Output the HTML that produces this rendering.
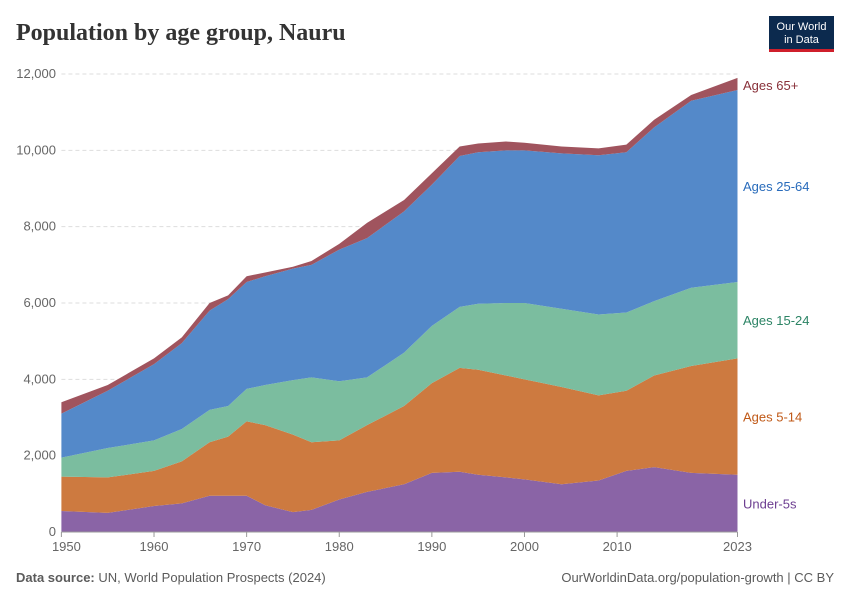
<!DOCTYPE html>
<html><head><meta charset="utf-8">
<style>
body{margin:0;background:#fff;}
svg text{font-family:"Liberation Sans",sans-serif;}
</style></head>
<body>
<svg id="chart" width="850" height="600" viewBox="0 0 850 600" xmlns="http://www.w3.org/2000/svg">
<text x="16" y="40" font-size="24" font-weight="bold" fill="#333" style="font-family:'Liberation Serif',serif">Population by age group, Nauru</text>
<g>
<rect x="769" y="16" width="65" height="34" fill="#0c2a4e"/>
<rect x="769" y="49" width="65" height="3" fill="#cf1f2b"/>
<text x="801.5" y="30" font-size="11" fill="#fff" text-anchor="middle">Our World</text>
<text x="801.5" y="43" font-size="11" fill="#fff" text-anchor="middle">in Data</text>
</g>
<g id="grid"></g>
<g id="areas"></g>
<g id="axes"></g>
<g id="labels"></g>
<text x="16" y="582" font-size="13" fill="#5b5b5b"><tspan font-weight="bold">Data source:</tspan> UN, World Population Prospects (2024)</text>
<text x="834" y="582" font-size="13" fill="#5b5b5b" text-anchor="end">OurWorldinData.org/population-growth | CC BY</text>
</svg>
<script>
const years=[1950,1955,1960,1963,1966,1968,1970,1972,1975,1977,1980,1983,1987,1990,1993,1995,1998,2000,2004,2008,2011,2014,2018,2023];
const under5=[550,500,680,750,950,950,950,700,520,580,850,1050,1250,1550,1580,1500,1430,1380,1250,1350,1600,1700,1550,1500];
const ages5to14=[900,930,920,1100,1400,1550,1950,2100,2030,1770,1550,1750,2050,2350,2720,2750,2670,2620,2550,2230,2100,2400,2800,3050];
const ages15to24=[500,770,800,850,850,800,850,1050,1430,1700,1550,1250,1400,1500,1600,1730,1900,2000,2050,2120,2050,1950,2050,2000];
const ages25to64=[1150,1500,2000,2250,2600,2800,2800,2850,2920,2950,3450,3650,3700,3700,3950,3970,4000,4000,4070,4170,4200,4550,4900,5030];
const ages65plus=[300,150,150,150,200,100,150,100,50,100,150,400,300,300,250,230,230,200,180,180,200,200,150,320];
const yTicks=[0,2000,4000,6000,8000,10000,12000];
const xTicks=[1950,1960,1970,1980,1990,2000,2010,2023];
const seriesNames=["Under-5s","Ages 5-14","Ages 15-24","Ages 25-64","Ages 65+"];
const fills=["#8a64a6","#cd7a40","#7bbd9f","#5489c9","#a0545e"];
const labelCols=["#6d3e91","#c05917","#2c8465","#286bbb","#883039"];
const X0=61.4,X1=737.5,Y0=532,Y1=74;
const xs=y=>X0+(y-1950)/(2023-1950)*(X1-X0);
const ys=v=>Y0-v/12000*(Y0-Y1);
const NS="http://www.w3.org/2000/svg";
function mk(t,a,p){const e=document.createElementNS(NS,t);for(const k in a)e.setAttribute(k,a[k]);p.appendChild(e);return e;}
const grid=document.getElementById('grid'),axes=document.getElementById('axes'),areas=document.getElementById('areas'),labels=document.getElementById('labels');
yTicks.forEach(v=>{
  if(v>0){const l=mk('line',{x1:X0,x2:X1,y1:ys(v),y2:ys(v),stroke:'#ddd','stroke-dasharray':'4,3'},grid);
  
  }
  const t=mk('text',{x:56,y:ys(v)+4,'font-size':13,fill:'#666','text-anchor':'end'},axes);
  t.textContent=v.toLocaleString('en-US');
  
  
});
const series=[under5,ages5to14,ages15to24,ages25to64,ages65plus];
let base=years.map(()=>0);
series.forEach((s,i)=>{
  const top=base.map((b,j)=>b+s[j]);
  let d='M'+years.map((y,j)=>xs(y)+','+ys(top[j])).join('L');
  for(let j=years.length-1;j>=0;j--)d+='L'+xs(years[j])+','+ys(base[j]);
  const p=mk('path',{d:d+'Z',fill:fills[i]},areas);
  
  
  const n=years.length-1;
  let ly=ys((base[n]+top[n])/2)+5;
  if(i==4)ly=ys(top[n])+12;
  const t=mk('text',{x:743,y:ly,'font-size':13,fill:labelCols[i]},labels);
  t.textContent=seriesNames[i];
  
  
  base=top;
});
const ax=mk('line',{x1:X0,x2:X1,y1:Y0,y2:Y0,stroke:'#999'},axes);


xTicks.forEach(y=>{
  const tk=mk('line',{x1:xs(y),x2:xs(y),y1:Y0,y2:Y0+5,stroke:'#999'},axes);
  
  
  const t=mk('text',{x:xs(y)+(y==1950?5:0),y:551,'font-size':13,fill:'#666','text-anchor':'middle'},axes);
  t.textContent=y;
  
  
});
</script>
</body></html>
